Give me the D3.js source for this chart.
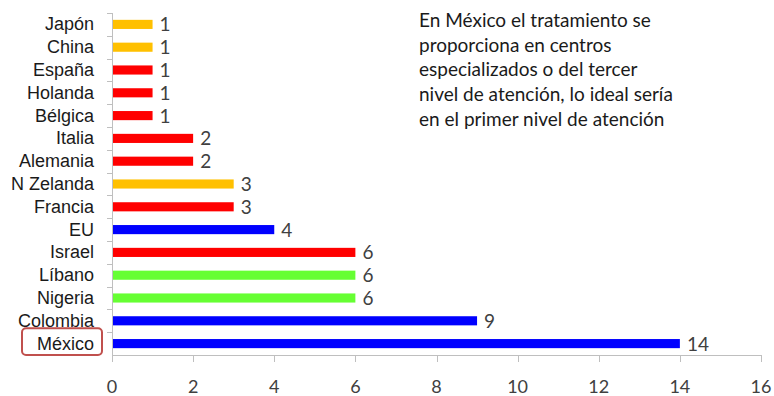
<!DOCTYPE html>
<html>
<head>
<meta charset="utf-8">
<script src="https://cdn.jsdelivr.net/npm/d3@7"></script>
<style>
  html, body { margin: 0; padding: 0; background: #ffffff; }
  svg { display: block; }
</style>
</head>
<body>
<svg id="chart" width="774" height="396"></svg>
<script>
// Countries, top to bottom
const categories = ["Japón", "China", "España", "Holanda", "Bélgica", "Italia", "Alemania",
  "N Zelanda", "Francia", "EU", "Israel", "Líbano", "Nigeria", "Colombia", "México"];
const values = [1, 1, 1, 1, 1, 2, 2, 3, 3, 4, 6, 6, 6, 9, 14];
const groups = ["asia", "asia", "europa", "europa", "europa", "europa", "europa",
  "asia", "europa", "america", "europa", "africa", "africa", "america", "america"];
const xTicks = [0, 2, 4, 6, 8, 10, 12, 14, 16];
const noteLines = [
  "En México el tratamiento se",
  "proporciona en centros",
  "especializados o del tercer",
  "nivel de atención, lo ideal sería",
  "en el primer nivel de atención"
];
const highlighted = "México";

const groupColor = {
  asia: "#FFC000",
  europa: "#FF0000",
  america: "#0000FF",
  africa: "#66FF33"
};

const svg = d3.select("#chart");
const axisColor = "#BFBFBF";

const x = d3.scaleLinear().domain([0, 16]).range([112, 761]);
const y = d3.scaleBand().domain(categories).range([13, 355]).paddingInner(0).paddingOuter(0);
const barFrac = 0.4;

// Y axis line and tick marks at category boundaries
svg.append("line")
  .attr("x1", x(0) + 0.5).attr("x2", x(0) + 0.5)
  .attr("y1", y.range()[0]).attr("y2", y.range()[1] + 7)
  .attr("stroke", axisColor).attr("stroke-width", 1);
const bounds = categories.map(c => y(c));
svg.selectAll(".ytick").data(bounds).join("line")
  .attr("x1", x(0) - 5).attr("x2", x(0))
  .attr("y1", d => Math.round(d) + 0.5).attr("y2", d => Math.round(d) + 0.5)
  .attr("stroke", axisColor).attr("stroke-width", 1);

// X axis line and ticks
svg.append("line")
  .attr("x1", x(0)).attr("x2", x(16) + 0.5)
  .attr("y1", y.range()[1] + 0.5).attr("y2", y.range()[1] + 0.5)
  .attr("stroke", axisColor).attr("stroke-width", 1);
svg.selectAll(".xtick").data(xTicks).join("line")
  .attr("x1", d => Math.round(x(d)) + 0.5).attr("x2", d => Math.round(x(d)) + 0.5)
  .attr("y1", y.range()[1]).attr("y2", y.range()[1] + 7)
  .attr("stroke", axisColor).attr("stroke-width", 1);
svg.selectAll(".xlabel").data(xTicks).join("text")
  .attr("x", d => x(d)).attr("y", 393)
  .attr("text-anchor", "middle")
  .attr("font-family", "Lato, 'Open Sans', sans-serif")
  .attr("font-size", 18).attr("fill", "#404040")
  .text(d => d);

// Bars
const data = categories.map((c, i) => ({ c, v: values[i], g: groups[i] }));
svg.selectAll(".bar").data(data).join("rect")
  .attr("x", x(0) + 1)
  .attr("y", d => y(d.c) + y.bandwidth() * (1 - barFrac) / 2)
  .attr("width", d => x(d.v) - x(0) - 1)
  .attr("height", y.bandwidth() * barFrac)
  .attr("fill", d => groupColor[d.g]);

// Value labels
svg.selectAll(".val").data(data).join("text")
  .attr("x", d => x(d.v) + 7)
  .attr("y", d => y(d.c) + y.bandwidth() / 2 + 7)
  .attr("font-family", "Lato, 'Open Sans', sans-serif")
  .attr("font-size", 19).attr("fill", "#404040")
  .text(d => d.v);

// Category labels
svg.selectAll(".cat").data(categories).join("text")
  .attr("x", 94)
  .attr("y", d => y(d) + y.bandwidth() / 2 + 6)
  .attr("text-anchor", "end")
  .attr("font-family", "'Liberation Sans', Arial, sans-serif")
  .attr("font-size", 18).attr("fill", "#1a1a1a")
  .text(d => d);

// Rounded box around the highlighted country
svg.append("rect")
  .attr("x", 22).attr("y", y(highlighted) - 4)
  .attr("width", 80).attr("height", y.bandwidth() + 4)
  .attr("rx", 4).attr("ry", 4)
  .attr("fill", "none").attr("stroke", "#C0504D").attr("stroke-width", 2);

// Annotation
svg.append("text")
  .attr("font-family", "Lato, 'Open Sans', sans-serif")
  .attr("font-size", 19).attr("fill", "#1a1a1a")
  .selectAll("tspan").data(noteLines).join("tspan")
  .attr("x", 419)
  .attr("y", (d, i) => 27 + i * 24.7)
  .text(d => d);
</script>
</body>
</html>
